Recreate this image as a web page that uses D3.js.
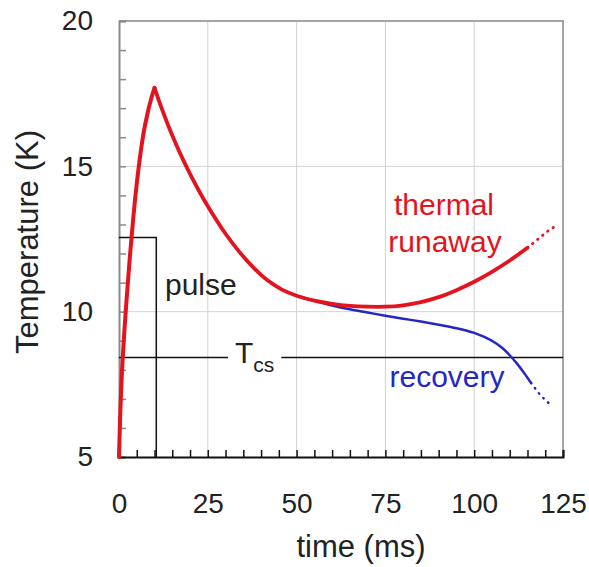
<!DOCTYPE html>
<html>
<head>
<meta charset="utf-8">
<script src="https://cdn.jsdelivr.net/npm/d3@7"></script>
<style>
  html, body { margin: 0; padding: 0; background: #fff; }
  svg { display: block; font-family: "Liberation Sans", Arial, sans-serif; }
</style>
</head>
<body>
<svg id="chart"></svg>
<script>
// ticks
const xTicks = [0, 25, 50, 75, 100, 125];
const yTicks = [5, 10, 15, 20];

// heating: common to both runs
const riseTime = [0, 0.5, 1, 2, 3, 4, 5, 6, 7, 8, 9, 10];
const riseTemp = [5, 7.0, 8.3, 10.2, 11.8, 13.2, 14.4, 15.4, 16.2, 16.8, 17.3, 17.7];

const decayTime = [10, 12, 14, 16, 18, 20, 23, 26, 30, 34, 38, 42, 46, 50, 55];
const decayTemp = [17.7, 17.0, 16.36, 15.78, 15.24, 14.74, 14.05, 13.43, 12.68, 12.04, 11.5, 11.06, 10.75, 10.55, 10.38];

// thermal runaway branch
const runawayTime = [60, 65, 70, 75, 80, 85, 90, 95, 100, 105, 110, 115];
const runawayTemp = [10.27, 10.2, 10.17, 10.17, 10.22, 10.33, 10.5, 10.74, 11.03, 11.37, 11.76, 12.2];
const runawayDotTime = [115, 117, 119, 121, 123];
const runawayDotTemp = [12.2, 12.4, 12.6, 12.8, 12.95];

// recovery branch
const recoveryTime = [60, 65, 70, 75, 80, 85, 90, 95, 100, 103, 106, 108, 110, 112, 114, 116];
const recoveryTemp = [10.21, 10.08, 9.97, 9.86, 9.76, 9.66, 9.55, 9.43, 9.27, 9.12, 8.92, 8.74, 8.5, 8.22, 7.9, 7.55];
const recoveryDotTime = [116, 118, 120, 122];
const recoveryDotTemp = [7.55, 7.22, 6.96, 6.75];

// pulse and current sharing temperature
const pulseTime = [0, 10.5, 10.5];
const pulseTemp = [12.55, 12.55, 5];
const tcs = 8.42;

const W = 589, H = 567;
const svg = d3.select("#chart").attr("width", W).attr("height", H);

const x = d3.scaleLinear().domain([0, 125]).range([119, 563]);
const y = d3.scaleLinear().domain([5, 20]).range([457, 21]);

const zip = (t, v) => t.map((d, i) => [d, v[i]]);
const line = d3.line().x(d => x(d[0])).y(d => y(d[1])).curve(d3.curveCatmullRom.alpha(0.5));
const straight = d3.line().x(d => x(d[0])).y(d => y(d[1]));

// grid
svg.append("g").selectAll("line")
  .data(xTicks.slice(1, -1)).enter().append("line")
  .attr("x1", d => x(d)).attr("x2", d => x(d))
  .attr("y1", y(20)).attr("y2", y(5))
  .attr("stroke", "#d2d2d2").attr("stroke-width", 1);
svg.append("g").selectAll("line")
  .data(yTicks.slice(1, -1)).enter().append("line")
  .attr("x1", x(0)).attr("x2", x(125))
  .attr("y1", d => y(d)).attr("y2", d => y(d))
  .attr("stroke", "#d2d2d2").attr("stroke-width", 1);

// frame (top, right)
svg.append("path")
  .attr("d", `M${x(0)},${y(20)}H${x(125)}V${y(5)}`)
  .attr("fill", "none").attr("stroke", "#a5a5a5").attr("stroke-width", 2);

// minor ticks
const yMinor = d3.axisLeft(y).tickValues(d3.range(5, 21)).tickSize(-7).tickFormat("");
const gy = svg.append("g").attr("transform", `translate(${x(0)},0)`).call(yMinor);
gy.selectAll("line").attr("stroke", "#8a8a8a").attr("stroke-width", 1.5);
gy.select(".domain").attr("stroke", "#8a8a8a").attr("stroke-width", 2);

const xMinor = d3.axisBottom(x).tickValues(d3.range(0, 126, 5)).tickSize(-7).tickFormat("");
const gx = svg.append("g").attr("transform", `translate(0,${y(5)})`).call(xMinor);
gx.selectAll("line").attr("stroke", "#111").attr("stroke-width", 1.5);
gx.select(".domain").attr("stroke", "#111").attr("stroke-width", 2);

// tick labels
const yLab = d3.axisLeft(y).tickValues(yTicks).tickSize(0).tickPadding(26);
const gyl = svg.append("g").attr("transform", `translate(${x(0)},0)`).call(yLab);
gyl.select(".domain").remove();
gyl.selectAll("text").attr("font-size", 28).attr("fill", "#222")
  .attr("font-family", "Liberation Sans, Arial, sans-serif");

const xLab = d3.axisBottom(x).tickValues(xTicks).tickSize(0).tickPadding(36);
const gxl = svg.append("g").attr("transform", `translate(0,${y(5)})`).call(xLab);
gxl.select(".domain").remove();
gxl.selectAll("text").attr("font-size", 28).attr("fill", "#222")
  .attr("font-family", "Liberation Sans, Arial, sans-serif");

// axis titles
svg.append("text").attr("x", 361).attr("y", 557)
  .attr("text-anchor", "middle").attr("font-size", 31).attr("fill", "#222")
  .text("time (ms)");
svg.append("text").attr("transform", "translate(38,242) rotate(-90)")
  .attr("text-anchor", "middle").attr("font-size", 31).attr("fill", "#222")
  .text("Temperature (K)");

// Tcs line with label gap
const tcsLabel = svg.append("text").attr("x", 235).attr("y", y(tcs) + 5)
  .attr("font-size", 30).attr("fill", "#222");
tcsLabel.append("tspan").text("T");
tcsLabel.append("tspan").attr("font-size", 21).attr("dy", 9).text("cs");
const bb = tcsLabel.node().getBBox();
svg.append("line")
  .attr("x1", x(0)).attr("x2", bb.x - 7)
  .attr("y1", y(tcs)).attr("y2", y(tcs))
  .attr("stroke", "#111").attr("stroke-width", 1.5);
svg.append("line")
  .attr("x1", bb.x + bb.width + 7).attr("x2", x(125))
  .attr("y1", y(tcs)).attr("y2", y(tcs))
  .attr("stroke", "#111").attr("stroke-width", 1.5);

// pulse
svg.append("path").attr("d", straight(zip(pulseTime, pulseTemp)))
  .attr("fill", "none").attr("stroke", "#111").attr("stroke-width", 1.5);
svg.append("text").attr("x", 165).attr("y", 295)
  .attr("font-size", 30).attr("fill", "#222").text("pulse");

// curves
const blue = "#2626c4", red = "#e3141e";
const drawCurve = (data, color, width) => svg.append("path")
  .attr("d", line(data)).attr("fill", "none")
  .attr("stroke", color).attr("stroke-width", width)
  .attr("stroke-linejoin", "round").attr("stroke-linecap", "round");
const drawDots = (data, color, width) => svg.append("path")
  .attr("d", straight(data)).attr("fill", "none")
  .attr("stroke", color).attr("stroke-width", width)
  .attr("stroke-linecap", "round").attr("stroke-dasharray", "0.5,6");

const rise = zip(riseTime, riseTemp);
const decay = zip(decayTime, decayTemp);

// recovery (underneath)
drawCurve(rise, blue, 2.5);
drawCurve(decay.concat(zip(recoveryTime, recoveryTemp)), blue, 2.5);
drawDots(zip(recoveryDotTime, recoveryDotTemp), blue, 2.5);

// runaway (on top)
drawCurve(rise, red, 4);
drawCurve(decay.concat(zip(runawayTime, runawayTemp)), red, 3.8);
drawDots(zip(runawayDotTime, runawayDotTemp), red, 2.8);

// labels
svg.append("text").attr("x", 444).attr("y", 215).attr("text-anchor", "middle")
  .attr("font-size", 30).attr("fill", red).text("thermal");
svg.append("text").attr("x", 445).attr("y", 252).attr("text-anchor", "middle")
  .attr("font-size", 30).attr("fill", red).text("runaway");
svg.append("text").attr("x", 447).attr("y", 387).attr("text-anchor", "middle")
  .attr("font-size", 30).attr("fill", blue).text("recovery");
</script>
</body>
</html>
